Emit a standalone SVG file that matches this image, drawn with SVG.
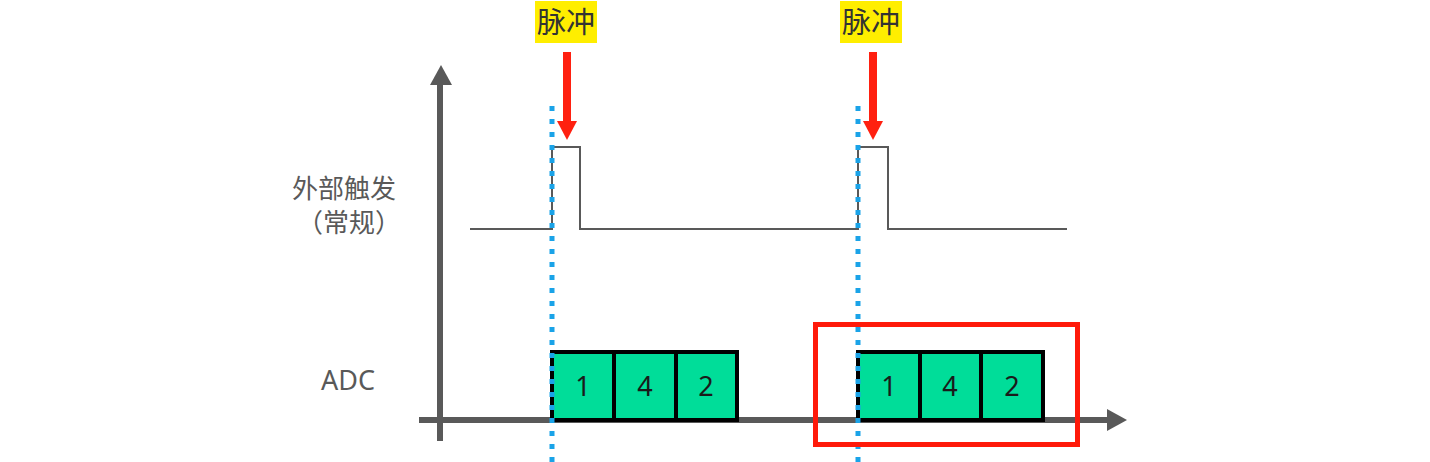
<svg xmlns="http://www.w3.org/2000/svg" width="1430" height="462" viewBox="0 0 1430 462">
<style>
.t{font-family:"Noto Sans CJK SC","Noto Sans",sans-serif;fill:#595959;font-size:26px}
.lbl{font-family:"Noto Sans CJK SC",sans-serif;fill:#333;font-size:29px}
.num{font-family:"Noto Sans","Liberation Sans",sans-serif;fill:#1a1a1a;font-size:27px;text-anchor:middle}
.cell{fill:#00DD99;stroke:#000;stroke-width:4}
.dot{stroke:#1aa3e8;stroke-width:5;stroke-dasharray:5 8;fill:none}
.wave{stroke:#595959;stroke-width:2;fill:none}
.axis{stroke:#595959;stroke-width:6;fill:none}
.red{stroke:#ff2010;stroke-width:8;fill:none}
.redh{fill:#ff2010}
</style>
<rect width="1430" height="462" fill="#fff"/>
<g id="axes">
<line class="axis" x1="440" y1="441" x2="440" y2="84"/>
<path d="M430,85L441,65L452,85z" fill="#595959"/>
<line class="axis" x1="419" y1="420" x2="1108" y2="420"/>
<path d="M1107,409L1127,420L1107,431z" fill="#595959"/>
</g>
<g id="trigger-labels">
<text class="t" x="292" y="198">外部触发</text>
<text class="t" x="297" y="232">（常规）</text>
<text class="t" x="321" y="390" style="font-family:'Noto Sans',sans-serif;font-size:27px">ADC</text>
</g>
<g id="waveform">
<polyline class="wave" points="470,229 552,229 552,147 580,147 580,229 858,229 858,147 888,147 888,229 1067,229"/>
</g>
<g id="adc1">
<rect class="cell" x="552" y="352" width="62" height="68"/>
<rect class="cell" x="614" y="352" width="62" height="68"/>
<rect class="cell" x="676" y="352" width="61" height="68"/>
<text class="num" x="583" y="396">1</text>
<text class="num" x="645" y="396">4</text>
<text class="num" x="706" y="396">2</text>
</g>
<g id="adc2">
<rect class="cell" x="858" y="352" width="62" height="68"/>
<rect class="cell" x="920" y="352" width="61" height="68"/>
<rect class="cell" x="981" y="352" width="62" height="68"/>
<text class="num" x="889" y="396">1</text>
<text class="num" x="950" y="396">4</text>
<text class="num" x="1012" y="396">2</text>
</g>
<g id="connectors">
<line class="dot" x1="552" y1="106" x2="552" y2="462"/>
<line class="dot" x1="858" y1="106" x2="858" y2="462"/>
<line class="red" x1="567" y1="52" x2="567" y2="122"/>
<path class="redh" d="M557,121L577,121L567,140z"/>
<line class="red" x1="873" y1="52" x2="873" y2="122"/>
<path class="redh" d="M863,121L883,121L873,140z"/>
</g>
<g id="highlight">
<rect x="815.5" y="324.5" width="262" height="120" fill="none" stroke="#ff1a0a" stroke-width="5"/>
</g>
<g id="pulse1">
<rect x="535" y="1" width="62" height="42" fill="#ffee00"/>
<text class="lbl" x="566" y="33" text-anchor="middle">脉冲</text>
</g>
<g id="pulse2">
<rect x="840" y="1" width="62" height="42" fill="#ffee00"/>
<text class="lbl" x="871" y="33" text-anchor="middle">脉冲</text>
</g>
</svg>
